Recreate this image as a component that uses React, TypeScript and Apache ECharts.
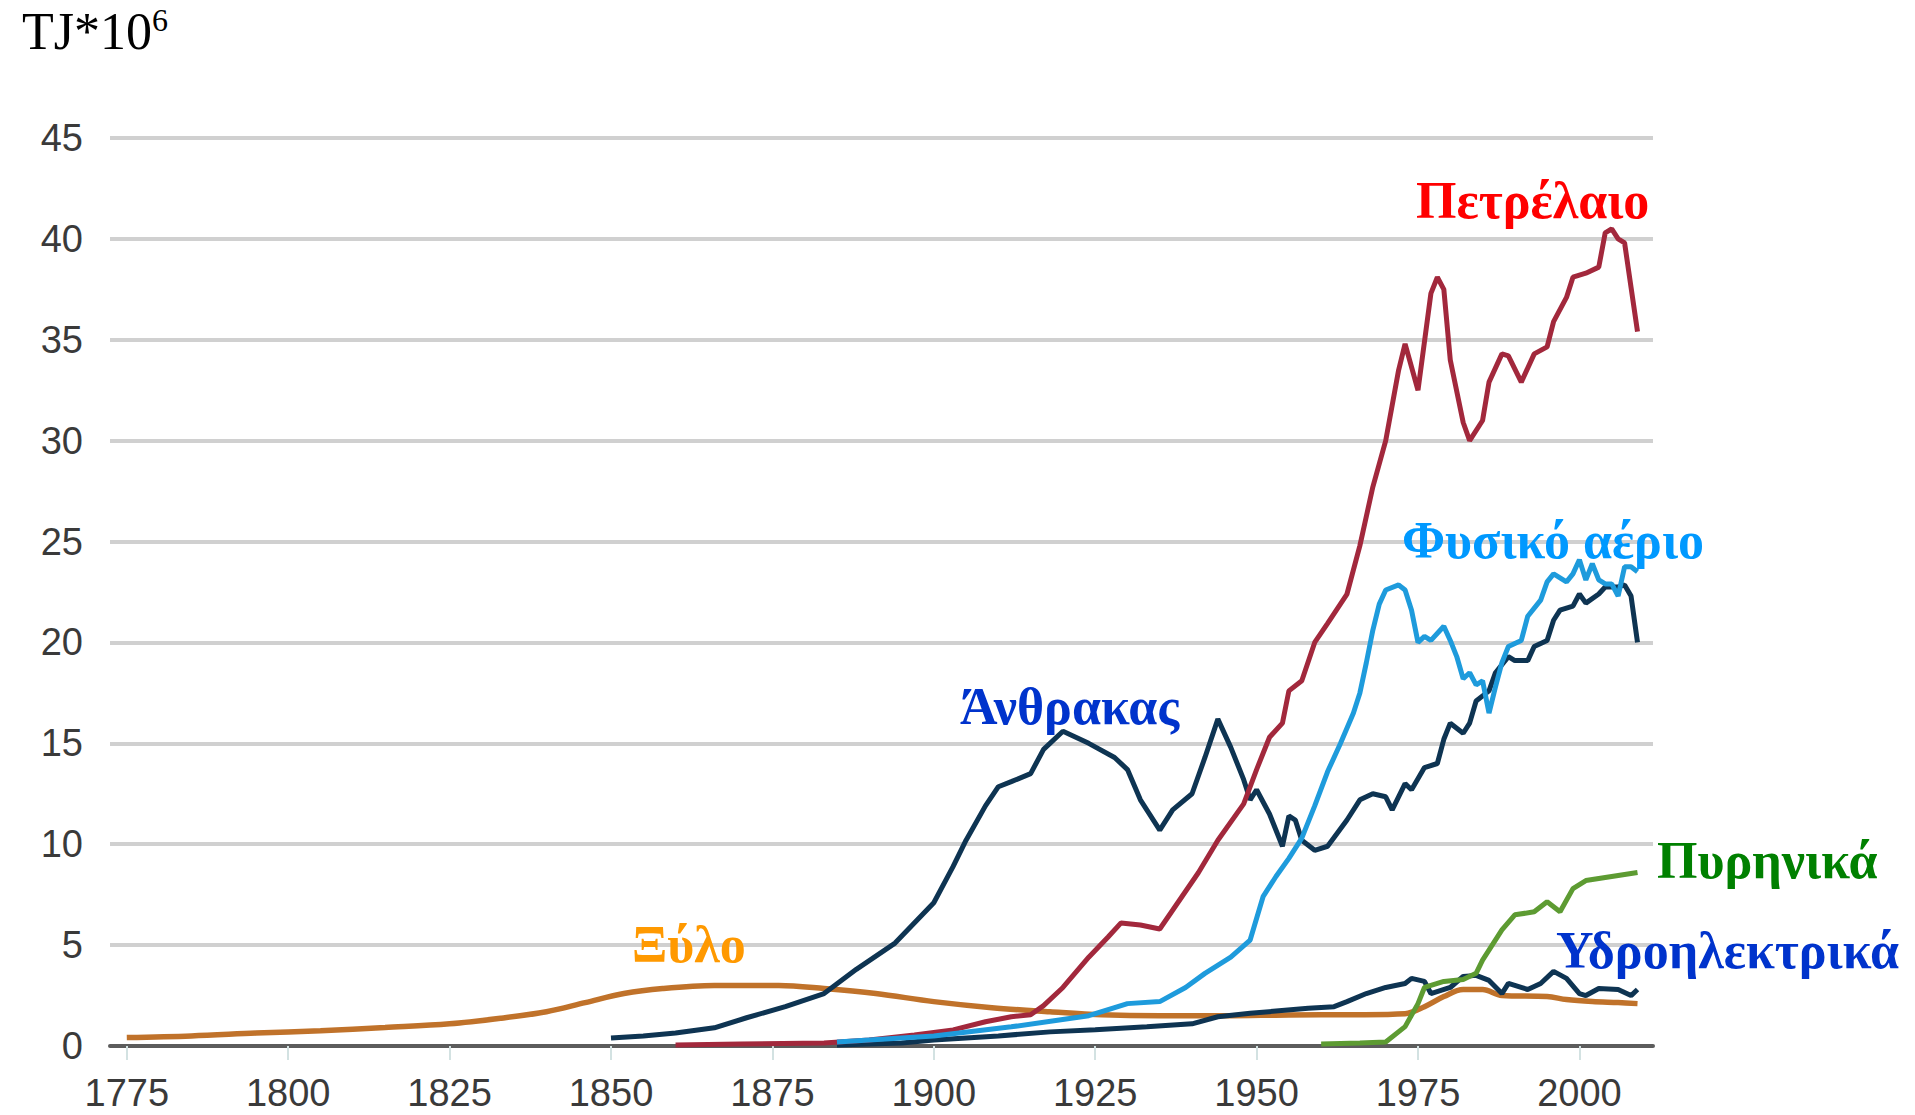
import React, { useEffect, useRef } from "react";
import * as echarts from "echarts";

// Tick labels
const xTickYears = [1775, 1800, 1825, 1850, 1875, 1900, 1925, 1950, 1975, 2000];
const yMin = 0;
const yMax = 45;
const yStep = 5;

// Series values: [year, TJ*10^6]
const wood: [number, number][] = [
  [1775, 0.42], [1785, 0.5], [1795, 0.64], [1805, 0.76], [1815, 0.92], [1825, 1.1],
  [1833, 1.38], [1840, 1.7], [1846, 2.15], [1852, 2.6], [1858, 2.85], [1866, 3.0],
  [1876, 3.0], [1883, 2.85], [1891, 2.6], [1900, 2.2], [1909, 1.9], [1918, 1.7],
  [1926, 1.55], [1935, 1.5], [1945, 1.5], [1955, 1.54], [1965, 1.55], [1973, 1.6],
  [1976, 1.95], [1979, 2.45], [1982, 2.8], [1985, 2.8], [1988, 2.5], [1995, 2.45],
  [1998, 2.3], [2002, 2.2], [2006, 2.15], [2009, 2.1],
];

const coal: [number, number][] = [
  [1850, 0.4], [1855, 0.5], [1860, 0.64], [1866, 0.9], [1871, 1.4], [1877, 1.95],
  [1883, 2.6], [1888, 3.8], [1894, 5.1], [1900, 7.1], [1903, 8.9], [1905, 10.2],
  [1908, 11.9], [1910, 12.85], [1912, 13.1], [1915, 13.5], [1917, 14.7], [1920, 15.6],
  [1924, 15.0], [1928, 14.3], [1930, 13.7], [1932, 12.2], [1935, 10.7], [1937, 11.7],
  [1940, 12.5], [1942, 14.3], [1944, 16.2], [1946, 14.8], [1948, 13.2], [1949, 12.2],
  [1950, 12.7], [1952, 11.5], [1954, 9.9], [1955, 11.4], [1956, 11.2], [1957, 10.2],
  [1959, 9.7], [1961, 9.9], [1964, 11.2], [1966, 12.2], [1968, 12.5], [1970, 12.35],
  [1971, 11.7], [1973, 13.0], [1974, 12.7], [1976, 13.8], [1978, 14.0], [1979, 15.2],
  [1980, 16.0], [1982, 15.5], [1983, 16.0], [1984, 17.1], [1986, 17.6], [1987, 18.5],
  [1989, 19.3], [1990, 19.1], [1992, 19.1], [1993, 19.8], [1995, 20.1], [1996, 21.1],
  [1997, 21.6], [1999, 21.8], [2000, 22.4], [2001, 21.95], [2003, 22.4], [2004, 22.75],
  [2006, 22.75], [2007, 22.85], [2008, 22.3], [2009, 20.0],
];

const oil: [number, number][] = [
  [1860, 0.05], [1870, 0.1], [1883, 0.15], [1890, 0.3], [1897, 0.55], [1903, 0.8],
  [1908, 1.2], [1912, 1.45], [1915, 1.55], [1917, 2.0], [1920, 2.9], [1924, 4.4],
  [1927, 5.4], [1929, 6.1], [1932, 6.0], [1935, 5.8], [1938, 7.2], [1941, 8.6],
  [1944, 10.2], [1948, 12.0], [1950, 13.7], [1952, 15.3], [1954, 16.0], [1955, 17.6],
  [1957, 18.1], [1959, 20.0], [1961, 20.95], [1964, 22.4], [1966, 24.8], [1968, 27.7],
  [1970, 30.0], [1972, 33.5], [1973, 34.8], [1975, 32.5], [1977, 37.3], [1978, 38.1],
  [1979, 37.5], [1980, 34.0], [1982, 30.9], [1983, 30.0], [1985, 31.0], [1986, 32.9],
  [1988, 34.3], [1989, 34.2], [1991, 32.9], [1993, 34.3], [1995, 34.65], [1996, 35.9],
  [1998, 37.1], [1999, 38.1], [2001, 38.3], [2003, 38.6], [2004, 40.3], [2005, 40.5],
  [2006, 40.0], [2007, 39.8], [2008, 37.6], [2009, 35.4],
];

const gas: [number, number][] = [
  [1885, 0.2], [1900, 0.5], [1912, 0.95], [1924, 1.5], [1930, 2.1], [1935, 2.2],
  [1939, 2.9], [1942, 3.6], [1946, 4.4], [1949, 5.25], [1951, 7.4], [1953, 8.4],
  [1955, 9.3], [1957, 10.3], [1959, 11.9], [1961, 13.6], [1963, 15.0], [1965, 16.5],
  [1966, 17.5], [1967, 19.0], [1968, 20.6], [1969, 21.9], [1970, 22.6], [1972, 22.85],
  [1973, 22.6], [1974, 21.6], [1975, 20.0], [1976, 20.3], [1977, 20.1], [1979, 20.8],
  [1980, 20.1], [1981, 19.3], [1982, 18.2], [1983, 18.5], [1984, 17.9], [1985, 18.1],
  [1986, 16.5], [1987, 17.8], [1988, 19.0], [1989, 19.8], [1991, 20.1], [1992, 21.3],
  [1994, 22.1], [1995, 23.0], [1996, 23.4], [1998, 23.0], [1999, 23.4], [2000, 24.1],
  [2001, 23.1], [2002, 23.9], [2003, 23.1], [2004, 22.9], [2005, 22.9], [2006, 22.3],
  [2007, 23.75], [2008, 23.75], [2009, 23.5],
];

const hydro: [number, number][] = [
  [1885, 0.05], [1895, 0.15], [1900, 0.3], [1910, 0.5], [1918, 0.7], [1925, 0.8],
  [1933, 0.95], [1940, 1.1], [1944, 1.45], [1949, 1.62], [1958, 1.87], [1962, 1.95],
  [1964, 2.2], [1967, 2.6], [1970, 2.9], [1973, 3.1], [1974, 3.35], [1976, 3.2],
  [1977, 2.6], [1980, 2.9], [1982, 3.45], [1984, 3.5], [1986, 3.25], [1988, 2.6],
  [1989, 3.1], [1992, 2.8], [1994, 3.1], [1996, 3.7], [1998, 3.35], [2000, 2.6],
  [2001, 2.5], [2003, 2.85], [2006, 2.8], [2008, 2.5], [2009, 2.8],
];

const nuclear: [number, number][] = [
  [1960, 0.1], [1966, 0.15], [1970, 0.2], [1973, 0.96], [1975, 2.1], [1976, 2.9],
  [1979, 3.2], [1982, 3.3], [1984, 3.6], [1985, 4.26], [1988, 5.75], [1990, 6.5],
  [1993, 6.65], [1995, 7.15], [1997, 6.65], [1999, 7.8], [2001, 8.2], [2005, 8.4],
  [2009, 8.6],
];

const seriesDefs = [
  { name: "Ξύλο", data: wood, color: "#c0722a", width: 5.5, smooth: 0.35 },
  { name: "Υδροηλεκτρικά", data: hydro, color: "#0e3452", width: 5, smooth: 0 },
  { name: "Άνθρακας", data: coal, color: "#0e3452", width: 5, smooth: 0 },
  { name: "Πετρέλαιο", data: oil, color: "#a2283c", width: 5, smooth: 0 },
  { name: "Φυσικό αέριο", data: gas, color: "#1e9bdc", width: 5, smooth: 0 },
  { name: "Πυρηνικά", data: nuclear, color: "#5d9b32", width: 5, smooth: 0 },
];

const seriesLabels = [
  { text: "Πετρέλαιο", color: "#ff0000" },
  { text: "Φυσικό αέριο", color: "#0099ff" },
  { text: "Άνθρακας", color: "#0033cc" },
  { text: "Πυρηνικά", color: "#008000" },
  { text: "Υδροηλεκτρικά", color: "#0033cc" },
  { text: "Ξύλο", color: "#ff9900" },
];
const labelPos = [
  [1416, 200],
  [1402, 540],
  [960, 706],
  [1657, 860],
  [1556, 950],
  [632, 944],
];

const unitText = "TJ*10";
const unitSup = "6";

export default function App() {
  const ref = useRef<HTMLDivElement>(null);
  useEffect(() => {
    if (!ref.current) return;
    const chart = echarts.init(ref.current, null, { renderer: "svg" });
    const serif = '"Liberation Serif", "Times New Roman", serif';
    const sans = '"Liberation Sans Narrow", "Liberation Sans", Arial, sans-serif';
    const option: any = {
      animation: false,
      backgroundColor: "#ffffff",
      grid: { left: 110, right: 262, top: 138, bottom: 69, containLabel: false },
      xAxis: {
        type: "value",
        min: 1772.4,
        max: 2011.4,
        splitLine: { show: false },
        axisLine: { show: true, onZero: true, lineStyle: { color: "#5c5c5c", width: 4 } },
        axisTick: {
          show: true,
          customValues: xTickYears,
          length: 14,
          lineStyle: { color: "#d3e2e2", width: 2 },
        },
        axisLabel: {
          customValues: xTickYears,
          formatter: (v: number) => String(v),
          fontSize: 38,
          lineHeight: 38,
          fontFamily: sans,
          color: "#3a3a3a",
          margin: 28,
        },
      },
      yAxis: {
        type: "value",
        min: yMin,
        max: yMax,
        interval: yStep,
        axisLine: { show: false },
        axisTick: { show: false },
        splitLine: { show: true, lineStyle: { color: "#d0d0d0", width: 4 } },
        axisLabel: {
          fontSize: 38,
          fontFamily: '"Liberation Sans", Arial, sans-serif',
          color: "#3a3a3a",
          margin: 27,
        },
      },
      series: seriesDefs.map((s) => ({
        name: s.name,
        type: "line",
        data: s.data,
        smooth: s.smooth,
        showSymbol: false,
        symbol: "none",
        lineStyle: { color: s.color, width: s.width },
        itemStyle: { color: s.color },
        emphasis: { disabled: true },
      })),
      graphic: [
        {
          type: "text",
          x: 22,
          y: 31,
          style: {
            text: unitText,
            fill: "#000000",
            font: `52px ${serif}`,
            align: "left",
            verticalAlign: "middle",
          },
        },
        {
          type: "text",
          x: 152,
          y: 20,
          style: {
            text: unitSup,
            fill: "#000000",
            font: `32px ${serif}`,
            align: "left",
            verticalAlign: "middle",
          },
        },
        ...seriesLabels.map((l, i) => ({
          type: "text",
          x: labelPos[i][0],
          y: labelPos[i][1],
          z: 100,
          style: {
            text: l.text,
            fill: l.color,
            font: `bold 52px ${serif}`,
            align: "left",
            verticalAlign: "middle",
          },
        })),
      ],
    };
    chart.setOption(option);
    return () => chart.dispose();
  }, []);
  return (
    <div
      ref={ref}
      style={{ position: "fixed", left: 0, top: 0, width: 1915, height: 1115, background: "#fff" }}
    />
  );
}
